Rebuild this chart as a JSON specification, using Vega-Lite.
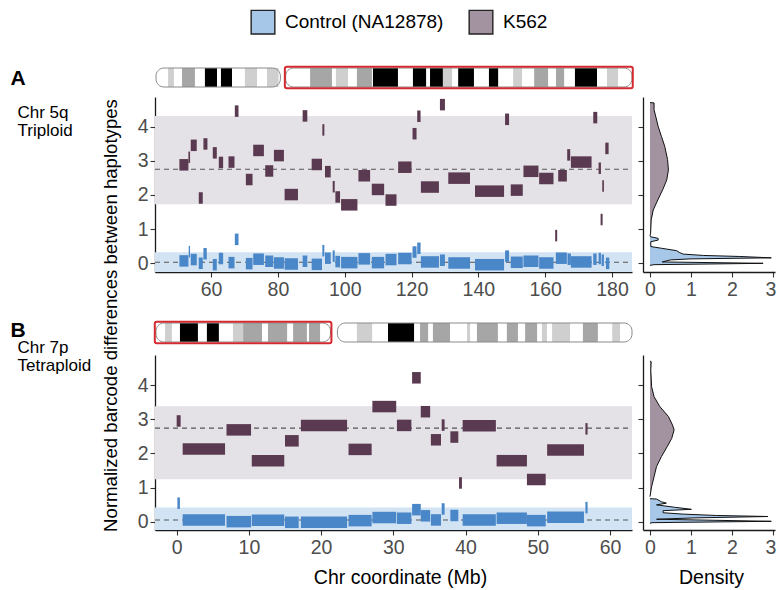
{
  "$schema": "https://vega.github.io/schema/vega-lite/v6.json",
  "width": 777,
  "height": 590,
  "autosize": "none",
  "padding": 0,
  "config": {
    "view": {"stroke": null},
    "font": "Liberation Sans",
    "axis": {"grid": false, "domainColor": "#1a1a1a", "domainWidth": 1.3, "tickColor": "#333333", "tickWidth": 1.1, "tickSize": 5, "labelFontSize": 19.5, "labelColor": "#4d4d4d", "titleFontSize": 19.5, "titleFontWeight": "normal", "titleColor": "#000000", "labelFlush": false, "labelOverlap": false, "labelBound": false, "format": "d"},
    "axisX": {"labelPadding": 3},
    "axisY": {"labelPadding": 2}
  },
  "datasets": {
    "arms": [
      {"chrom": "5", "start": 0, "end": 47.3},
      {"chrom": "5", "start": 49.3, "end": 181},
      {"chrom": "7", "start": 0, "end": 58.3},
      {"chrom": "7", "start": 60.6, "end": 159}
    ],
    "hl": [
      {"chrom": "5", "start": 49.0, "end": 181.3},
      {"chrom": "7", "start": -0.4, "end": 58.6}
    ],
    "bands": [
      {"chrom": "5", "start": 4.6, "end": 6.8, "stain": "gpos25"},
      {"chrom": "5", "start": 9.9, "end": 14.8, "stain": "gpos50"},
      {"chrom": "5", "start": 18.6, "end": 23.2, "stain": "gpos100"},
      {"chrom": "5", "start": 24.7, "end": 28.9, "stain": "gpos100"},
      {"chrom": "5", "start": 33.8, "end": 38.4, "stain": "gpos25"},
      {"chrom": "5", "start": 42.2, "end": 46.6, "stain": "gpos25"},
      {"chrom": "5", "start": 58.6, "end": 66.9, "stain": "gpos50"},
      {"chrom": "5", "start": 68.4, "end": 73.0, "stain": "gpos25"},
      {"chrom": "5", "start": 76.4, "end": 82.1, "stain": "gpos50"},
      {"chrom": "5", "start": 82.5, "end": 92.0, "stain": "gpos100"},
      {"chrom": "5", "start": 97.7, "end": 102.7, "stain": "gpos100"},
      {"chrom": "5", "start": 104.2, "end": 109.1, "stain": "gpos100"},
      {"chrom": "5", "start": 109.1, "end": 112.6, "stain": "gpos25"},
      {"chrom": "5", "start": 114.9, "end": 120.9, "stain": "gpos100"},
      {"chrom": "5", "start": 126.6, "end": 130.1, "stain": "gpos100"},
      {"chrom": "5", "start": 135.8, "end": 139.2, "stain": "gpos25"},
      {"chrom": "5", "start": 143.8, "end": 149.1, "stain": "gpos50"},
      {"chrom": "5", "start": 152.1, "end": 155.2, "stain": "gpos50"},
      {"chrom": "5", "start": 159.3, "end": 167.7, "stain": "gpos100"},
      {"chrom": "5", "start": 171.5, "end": 175.7, "stain": "gpos25"},
      {"chrom": "7", "start": 3.0, "end": 5.3, "stain": "gpos25"},
      {"chrom": "7", "start": 8.0, "end": 14.0, "stain": "gpos100"},
      {"chrom": "7", "start": 17.0, "end": 21.0, "stain": "gpos100"},
      {"chrom": "7", "start": 25.7, "end": 29.1, "stain": "gpos25"},
      {"chrom": "7", "start": 29.1, "end": 35.4, "stain": "gpos50"},
      {"chrom": "7", "start": 37.4, "end": 43.8, "stain": "gpos50"},
      {"chrom": "7", "start": 45.8, "end": 50.4, "stain": "gpos50"},
      {"chrom": "7", "start": 51.1, "end": 54.8, "stain": "gpos50"},
      {"chrom": "7", "start": 67.1, "end": 72.2, "stain": "gpos25"},
      {"chrom": "7", "start": 77.5, "end": 86.2, "stain": "gpos100"},
      {"chrom": "7", "start": 88.2, "end": 90.9, "stain": "gpos50"},
      {"chrom": "7", "start": 92.5, "end": 98.2, "stain": "gpos50"},
      {"chrom": "7", "start": 103.9, "end": 104.9, "stain": "gpos25"},
      {"chrom": "7", "start": 107.2, "end": 114.2, "stain": "gpos50"},
      {"chrom": "7", "start": 117.2, "end": 120.9, "stain": "gpos50"},
      {"chrom": "7", "start": 123.3, "end": 127.3, "stain": "gpos50"},
      {"chrom": "7", "start": 128.9, "end": 130.6, "stain": "gpos25"},
      {"chrom": "7", "start": 132.3, "end": 138.3, "stain": "gpos25"},
      {"chrom": "7", "start": 142.6, "end": 147.6, "stain": "gpos50"},
      {"chrom": "7", "start": 152.4, "end": 155.0, "stain": "gpos25"}
    ],
    "zones": [
      {"panel": "A", "group": "K562", "lo": 1.73, "hi": 4.31},
      {"panel": "A", "group": "Control (NA12878)", "lo": -0.254, "hi": 0.32},
      {"panel": "B", "group": "K562", "lo": 1.25, "hi": 3.38},
      {"panel": "B", "group": "Control (NA12878)", "lo": -0.234, "hi": 0.42}
    ],
    "means": [
      {"panel": "A", "group": "K562", "mean": 2.75},
      {"panel": "A", "group": "Control (NA12878)", "mean": 0.03},
      {"panel": "B", "group": "K562", "mean": 2.74},
      {"panel": "B", "group": "Control (NA12878)", "mean": 0.06}
    ],
    "seg": [
      {"panel": "A", "group": "K562", "start": 50.5, "end": 53.2, "value": 2.88},
      {"panel": "A", "group": "K562", "start": 53.2, "end": 53.7, "value": 3.1},
      {"panel": "A", "group": "K562", "start": 53.9, "end": 55.7, "value": 3.45},
      {"panel": "A", "group": "K562", "start": 56.3, "end": 57.5, "value": 1.91},
      {"panel": "A", "group": "K562", "start": 57.7, "end": 58.9, "value": 3.49},
      {"panel": "A", "group": "K562", "start": 60.5, "end": 61.7, "value": 3.23},
      {"panel": "A", "group": "K562", "start": 62.3, "end": 63.6, "value": 2.95},
      {"panel": "A", "group": "K562", "start": 65.2, "end": 67.0, "value": 2.96},
      {"panel": "A", "group": "K562", "start": 67.1, "end": 68.2, "value": 4.45},
      {"panel": "A", "group": "K562", "start": 70.4, "end": 72.4, "value": 2.45},
      {"panel": "A", "group": "K562", "start": 72.6, "end": 75.8, "value": 3.30},
      {"panel": "A", "group": "K562", "start": 76.2, "end": 78.6, "value": 2.70},
      {"panel": "A", "group": "K562", "start": 78.8, "end": 81.8, "value": 3.15},
      {"panel": "A", "group": "K562", "start": 82.0, "end": 86.0, "value": 2.01},
      {"panel": "A", "group": "K562", "start": 87.4, "end": 88.8, "value": 4.31},
      {"panel": "A", "group": "K562", "start": 90.1, "end": 93.2, "value": 2.89},
      {"panel": "A", "group": "K562", "start": 93.3, "end": 93.9, "value": 3.90},
      {"panel": "A", "group": "K562", "start": 94.1, "end": 95.8, "value": 2.68},
      {"panel": "A", "group": "K562", "start": 96.4, "end": 97.0, "value": 2.24},
      {"panel": "A", "group": "K562", "start": 97.2, "end": 98.6, "value": 1.94},
      {"panel": "A", "group": "K562", "start": 98.9, "end": 103.8, "value": 1.71},
      {"panel": "A", "group": "K562", "start": 104.1, "end": 107.6, "value": 2.56},
      {"panel": "A", "group": "K562", "start": 108.1, "end": 111.8, "value": 2.16},
      {"panel": "A", "group": "K562", "start": 112.2, "end": 115.5, "value": 1.85},
      {"panel": "A", "group": "K562", "start": 116.0, "end": 120.0, "value": 2.81},
      {"panel": "A", "group": "K562", "start": 120.3, "end": 121.5, "value": 3.79},
      {"panel": "A", "group": "K562", "start": 121.7, "end": 122.7, "value": 4.30},
      {"panel": "A", "group": "K562", "start": 122.8, "end": 128.2, "value": 2.23},
      {"panel": "A", "group": "K562", "start": 128.5, "end": 130.0, "value": 4.64},
      {"panel": "A", "group": "K562", "start": 131.0, "end": 137.5, "value": 2.49},
      {"panel": "A", "group": "K562", "start": 139.0, "end": 147.7, "value": 2.11},
      {"panel": "A", "group": "K562", "start": 148.0, "end": 149.2, "value": 4.21},
      {"panel": "A", "group": "K562", "start": 149.7, "end": 153.3, "value": 2.14},
      {"panel": "A", "group": "K562", "start": 153.5, "end": 158.0, "value": 2.69},
      {"panel": "A", "group": "K562", "start": 158.2, "end": 162.5, "value": 2.48},
      {"panel": "A", "group": "K562", "start": 163.0, "end": 163.6, "value": 0.81},
      {"panel": "A", "group": "K562", "start": 163.9, "end": 166.5, "value": 2.56},
      {"panel": "A", "group": "K562", "start": 166.6, "end": 167.5, "value": 3.17},
      {"panel": "A", "group": "K562", "start": 167.7, "end": 173.9, "value": 2.96},
      {"panel": "A", "group": "K562", "start": 174.4, "end": 175.6, "value": 4.26},
      {"panel": "A", "group": "K562", "start": 176.0, "end": 176.7, "value": 2.78},
      {"panel": "A", "group": "K562", "start": 176.6, "end": 177.2, "value": 1.28},
      {"panel": "A", "group": "K562", "start": 177.1, "end": 177.6, "value": 2.26},
      {"panel": "A", "group": "K562", "start": 178.0, "end": 179.0, "value": 3.36},
      {"panel": "A", "group": "Control (NA12878)", "start": 50.5, "end": 53.2, "value": 0.07},
      {"panel": "A", "group": "Control (NA12878)", "start": 53.3, "end": 53.7, "value": 0.34},
      {"panel": "A", "group": "Control (NA12878)", "start": 53.9, "end": 55.7, "value": 0.11},
      {"panel": "A", "group": "Control (NA12878)", "start": 56.3, "end": 57.5, "value": 0.0},
      {"panel": "A", "group": "Control (NA12878)", "start": 57.7, "end": 58.7, "value": 0.28},
      {"panel": "A", "group": "Control (NA12878)", "start": 60.5, "end": 61.7, "value": -0.04},
      {"panel": "A", "group": "Control (NA12878)", "start": 62.3, "end": 63.6, "value": 0.14},
      {"panel": "A", "group": "Control (NA12878)", "start": 65.2, "end": 67.0, "value": 0.02},
      {"panel": "A", "group": "Control (NA12878)", "start": 67.1, "end": 68.2, "value": 0.70},
      {"panel": "A", "group": "Control (NA12878)", "start": 70.4, "end": 72.4, "value": -0.01},
      {"panel": "A", "group": "Control (NA12878)", "start": 72.6, "end": 75.8, "value": 0.12},
      {"panel": "A", "group": "Control (NA12878)", "start": 76.2, "end": 78.6, "value": 0.06},
      {"panel": "A", "group": "Control (NA12878)", "start": 78.8, "end": 81.8, "value": 0.01},
      {"panel": "A", "group": "Control (NA12878)", "start": 82.0, "end": 86.0, "value": -0.02},
      {"panel": "A", "group": "Control (NA12878)", "start": 87.4, "end": 88.8, "value": 0.06},
      {"panel": "A", "group": "Control (NA12878)", "start": 90.1, "end": 93.2, "value": -0.03},
      {"panel": "A", "group": "Control (NA12878)", "start": 93.3, "end": 93.9, "value": 0.37},
      {"panel": "A", "group": "Control (NA12878)", "start": 94.1, "end": 95.8, "value": 0.15},
      {"panel": "A", "group": "Control (NA12878)", "start": 96.4, "end": 97.0, "value": 0.21},
      {"panel": "A", "group": "Control (NA12878)", "start": 97.2, "end": 98.6, "value": 0.05},
      {"panel": "A", "group": "Control (NA12878)", "start": 98.9, "end": 103.8, "value": 0.02},
      {"panel": "A", "group": "Control (NA12878)", "start": 104.1, "end": 107.6, "value": 0.13},
      {"panel": "A", "group": "Control (NA12878)", "start": 108.1, "end": 111.8, "value": 0.02},
      {"panel": "A", "group": "Control (NA12878)", "start": 112.2, "end": 115.5, "value": 0.11},
      {"panel": "A", "group": "Control (NA12878)", "start": 116.0, "end": 120.0, "value": 0.14},
      {"panel": "A", "group": "Control (NA12878)", "start": 120.3, "end": 121.5, "value": 0.33},
      {"panel": "A", "group": "Control (NA12878)", "start": 121.7, "end": 122.7, "value": 0.44},
      {"panel": "A", "group": "Control (NA12878)", "start": 122.8, "end": 128.2, "value": 0.04},
      {"panel": "A", "group": "Control (NA12878)", "start": 128.5, "end": 130.0, "value": 0.09},
      {"panel": "A", "group": "Control (NA12878)", "start": 131.0, "end": 137.5, "value": 0.01},
      {"panel": "A", "group": "Control (NA12878)", "start": 139.0, "end": 147.7, "value": -0.04},
      {"panel": "A", "group": "Control (NA12878)", "start": 148.0, "end": 149.2, "value": 0.21},
      {"panel": "A", "group": "Control (NA12878)", "start": 149.7, "end": 153.3, "value": 0.03},
      {"panel": "A", "group": "Control (NA12878)", "start": 153.5, "end": 158.0, "value": 0.06},
      {"panel": "A", "group": "Control (NA12878)", "start": 158.2, "end": 162.5, "value": 0.01},
      {"panel": "A", "group": "Control (NA12878)", "start": 163.2, "end": 166.5, "value": 0.15},
      {"panel": "A", "group": "Control (NA12878)", "start": 166.7, "end": 167.7, "value": 0.12},
      {"panel": "A", "group": "Control (NA12878)", "start": 167.7, "end": 173.9, "value": 0.04},
      {"panel": "A", "group": "Control (NA12878)", "start": 174.4, "end": 175.4, "value": 0.12},
      {"panel": "A", "group": "Control (NA12878)", "start": 176.0, "end": 176.7, "value": 0.14},
      {"panel": "A", "group": "Control (NA12878)", "start": 176.9, "end": 177.6, "value": 0.09},
      {"panel": "A", "group": "Control (NA12878)", "start": 178.2, "end": 179.2, "value": 0.0},
      {"panel": "B", "group": "K562", "start": 0.0, "end": 0.55, "value": 2.95},
      {"panel": "B", "group": "K562", "start": 0.83, "end": 6.7, "value": 2.13},
      {"panel": "B", "group": "K562", "start": 6.9, "end": 10.3, "value": 2.69},
      {"panel": "B", "group": "K562", "start": 10.4, "end": 14.9, "value": 1.79},
      {"panel": "B", "group": "K562", "start": 15.0, "end": 16.9, "value": 2.37},
      {"panel": "B", "group": "K562", "start": 17.2, "end": 23.6, "value": 2.82},
      {"panel": "B", "group": "K562", "start": 23.8, "end": 27.0, "value": 2.12},
      {"panel": "B", "group": "K562", "start": 27.1, "end": 30.4, "value": 3.37},
      {"panel": "B", "group": "K562", "start": 30.5, "end": 32.5, "value": 2.82},
      {"panel": "B", "group": "K562", "start": 32.6, "end": 33.8, "value": 4.21},
      {"panel": "B", "group": "K562", "start": 33.8, "end": 35.1, "value": 3.22},
      {"panel": "B", "group": "K562", "start": 35.2, "end": 36.6, "value": 2.40},
      {"panel": "B", "group": "K562", "start": 36.7, "end": 37.1, "value": 2.83},
      {"panel": "B", "group": "K562", "start": 37.9, "end": 39.0, "value": 2.48},
      {"panel": "B", "group": "K562", "start": 39.1, "end": 39.5, "value": 1.14},
      {"panel": "B", "group": "K562", "start": 39.6, "end": 44.2, "value": 2.81},
      {"panel": "B", "group": "K562", "start": 44.3, "end": 48.5, "value": 1.79},
      {"panel": "B", "group": "K562", "start": 48.5, "end": 51.1, "value": 1.24},
      {"panel": "B", "group": "K562", "start": 51.3, "end": 56.4, "value": 2.10},
      {"panel": "B", "group": "K562", "start": 56.6, "end": 56.9, "value": 2.72},
      {"panel": "B", "group": "Control (NA12878)", "start": 0.1, "end": 0.45, "value": 0.55},
      {"panel": "B", "group": "Control (NA12878)", "start": 0.83, "end": 6.7, "value": 0.06},
      {"panel": "B", "group": "Control (NA12878)", "start": 6.9, "end": 10.3, "value": 0.01},
      {"panel": "B", "group": "Control (NA12878)", "start": 10.4, "end": 14.9, "value": 0.05},
      {"panel": "B", "group": "Control (NA12878)", "start": 15.0, "end": 16.9, "value": -0.01},
      {"panel": "B", "group": "Control (NA12878)", "start": 17.2, "end": 23.6, "value": -0.01},
      {"panel": "B", "group": "Control (NA12878)", "start": 23.8, "end": 27.0, "value": 0.04},
      {"panel": "B", "group": "Control (NA12878)", "start": 27.1, "end": 30.4, "value": 0.13},
      {"panel": "B", "group": "Control (NA12878)", "start": 30.5, "end": 32.5, "value": 0.11},
      {"panel": "B", "group": "Control (NA12878)", "start": 32.6, "end": 33.8, "value": 0.36},
      {"panel": "B", "group": "Control (NA12878)", "start": 33.8, "end": 35.1, "value": 0.18},
      {"panel": "B", "group": "Control (NA12878)", "start": 35.2, "end": 36.6, "value": 0.06},
      {"panel": "B", "group": "Control (NA12878)", "start": 36.7, "end": 37.1, "value": 0.38},
      {"panel": "B", "group": "Control (NA12878)", "start": 37.9, "end": 39.0, "value": 0.19},
      {"panel": "B", "group": "Control (NA12878)", "start": 39.6, "end": 44.2, "value": 0.06},
      {"panel": "B", "group": "Control (NA12878)", "start": 44.3, "end": 48.5, "value": 0.11},
      {"panel": "B", "group": "Control (NA12878)", "start": 48.5, "end": 51.1, "value": 0.04},
      {"panel": "B", "group": "Control (NA12878)", "start": 51.3, "end": 56.4, "value": 0.14},
      {"panel": "B", "group": "Control (NA12878)", "start": 56.6, "end": 56.9, "value": 0.42}
    ],
    "dens": [
      {"panel": "A", "group": "K562", "value": 0.80, "density": 0.0},
      {"panel": "A", "group": "K562", "value": 0.88, "density": 0.016},
      {"panel": "A", "group": "K562", "value": 1.27, "density": 0.03},
      {"panel": "A", "group": "K562", "value": 1.56, "density": 0.08},
      {"panel": "A", "group": "K562", "value": 1.85, "density": 0.19},
      {"panel": "A", "group": "K562", "value": 2.15, "density": 0.31},
      {"panel": "A", "group": "K562", "value": 2.44, "density": 0.41},
      {"panel": "A", "group": "K562", "value": 2.73, "density": 0.45},
      {"panel": "A", "group": "K562", "value": 3.03, "density": 0.43},
      {"panel": "A", "group": "K562", "value": 3.42, "density": 0.36},
      {"panel": "A", "group": "K562", "value": 3.71, "density": 0.28},
      {"panel": "A", "group": "K562", "value": 4.0, "density": 0.2},
      {"panel": "A", "group": "K562", "value": 4.25, "density": 0.15},
      {"panel": "A", "group": "K562", "value": 4.49, "density": 0.1},
      {"panel": "A", "group": "K562", "value": 4.69, "density": 0.1},
      {"panel": "A", "group": "K562", "value": 4.70, "density": 0.0},
      {"panel": "A", "group": "Control (NA12878)", "value": -0.06, "density": 0.0},
      {"panel": "A", "group": "Control (NA12878)", "value": -0.04, "density": 0.1},
      {"panel": "A", "group": "Control (NA12878)", "value": 0.0, "density": 2.76},
      {"panel": "A", "group": "Control (NA12878)", "value": 0.04, "density": 0.3},
      {"panel": "A", "group": "Control (NA12878)", "value": 0.10, "density": 0.5},
      {"panel": "A", "group": "Control (NA12878)", "value": 0.13, "density": 1.0},
      {"panel": "A", "group": "Control (NA12878)", "value": 0.16, "density": 2.96},
      {"panel": "A", "group": "Control (NA12878)", "value": 0.20, "density": 2.19},
      {"panel": "A", "group": "Control (NA12878)", "value": 0.23, "density": 1.3},
      {"panel": "A", "group": "Control (NA12878)", "value": 0.27, "density": 0.81},
      {"panel": "A", "group": "Control (NA12878)", "value": 0.31, "density": 0.73},
      {"panel": "A", "group": "Control (NA12878)", "value": 0.37, "density": 0.65},
      {"panel": "A", "group": "Control (NA12878)", "value": 0.44, "density": 0.28},
      {"panel": "A", "group": "Control (NA12878)", "value": 0.49, "density": 0.02},
      {"panel": "A", "group": "Control (NA12878)", "value": 0.63, "density": 0.02},
      {"panel": "A", "group": "Control (NA12878)", "value": 0.68, "density": 0.2},
      {"panel": "A", "group": "Control (NA12878)", "value": 0.73, "density": 0.2},
      {"panel": "A", "group": "Control (NA12878)", "value": 0.78, "density": 0.0},
      {"panel": "B", "group": "K562", "value": 0.74, "density": 0.0},
      {"panel": "B", "group": "K562", "value": 1.03, "density": 0.04},
      {"panel": "B", "group": "K562", "value": 1.32, "density": 0.10},
      {"panel": "B", "group": "K562", "value": 1.62, "density": 0.16},
      {"panel": "B", "group": "K562", "value": 1.91, "density": 0.28},
      {"panel": "B", "group": "K562", "value": 2.2, "density": 0.42},
      {"panel": "B", "group": "K562", "value": 2.44, "density": 0.53},
      {"panel": "B", "group": "K562", "value": 2.69, "density": 0.59},
      {"panel": "B", "group": "K562", "value": 2.83, "density": 0.55},
      {"panel": "B", "group": "K562", "value": 3.08, "density": 0.45},
      {"panel": "B", "group": "K562", "value": 3.37, "density": 0.24},
      {"panel": "B", "group": "K562", "value": 3.66, "density": 0.10},
      {"panel": "B", "group": "K562", "value": 3.95, "density": 0.04},
      {"panel": "B", "group": "K562", "value": 4.44, "density": 0.02},
      {"panel": "B", "group": "K562", "value": 4.68, "density": 0.03},
      {"panel": "B", "group": "K562", "value": 4.70, "density": 0.0},
      {"panel": "B", "group": "Control (NA12878)", "value": -0.04, "density": 0.0},
      {"panel": "B", "group": "Control (NA12878)", "value": -0.02, "density": 0.05},
      {"panel": "B", "group": "Control (NA12878)", "value": 0.02, "density": 2.96},
      {"panel": "B", "group": "Control (NA12878)", "value": 0.08, "density": 0.16},
      {"panel": "B", "group": "Control (NA12878)", "value": 0.12, "density": 1.1},
      {"panel": "B", "group": "Control (NA12878)", "value": 0.16, "density": 2.88},
      {"panel": "B", "group": "Control (NA12878)", "value": 0.19, "density": 1.62},
      {"panel": "B", "group": "Control (NA12878)", "value": 0.23, "density": 0.81},
      {"panel": "B", "group": "Control (NA12878)", "value": 0.27, "density": 0.32},
      {"panel": "B", "group": "Control (NA12878)", "value": 0.33, "density": 0.32},
      {"panel": "B", "group": "Control (NA12878)", "value": 0.37, "density": 1.01},
      {"panel": "B", "group": "Control (NA12878)", "value": 0.43, "density": 0.6},
      {"panel": "B", "group": "Control (NA12878)", "value": 0.5, "density": 0.16},
      {"panel": "B", "group": "Control (NA12878)", "value": 0.55, "density": 0.4},
      {"panel": "B", "group": "Control (NA12878)", "value": 0.59, "density": 0.28},
      {"panel": "B", "group": "Control (NA12878)", "value": 0.67, "density": 0.16},
      {"panel": "B", "group": "Control (NA12878)", "value": 0.68, "density": 0.0}
    ]
  },
  "layer": [
    {
      "layer": [
        {
          "data": {"name": "arms"},
          "transform": [{"filter": {"field": "chrom", "equal": "5"}}],
          "mark": {"type": "rect", "fill": "white", "cornerRadius": 8},
          "encoding": {
            "x": {"field": "start", "type": "quantitative", "scale": {"domain": [0, 181], "range": [156, 632], "nice": false, "zero": false}, "axis": {"orient": "top", "offset": 0, "domain": false, "ticks": false, "labels": false, "title": "A", "titleX": 10, "titleY": 84, "titleAlign": "left", "titleBaseline": "alphabetic", "titleFontSize": 21, "titleFontWeight": "bold"}},
            "x2": {"field": "end"},
            "y": {"datum": 0, "type": "quantitative", "scale": {"domain": [0, 1], "range": [87, 68], "nice": false, "zero": false}, "axis": {"orient": "left", "offset": 0, "domain": false, "ticks": false, "labels": false, "title": ["Chr 5q", "Triploid"], "titleAngle": 0, "titleX": 17, "titleY": 117, "titleAlign": "left", "titleBaseline": "alphabetic", "titleFontSize": 17, "titleLineHeight": 18}},
            "y2": {"datum": 1}
          }
        },
        {
          "data": {"name": "bands"},
          "transform": [{"filter": {"field": "chrom", "equal": "5"}}],
          "mark": {"type": "rect"},
          "encoding": {
            "x": {"field": "start", "type": "quantitative"},
            "x2": {"field": "end"},
            "y": {"datum": 0, "type": "quantitative"},
            "y2": {"datum": 1},
            "color": {"field": "stain", "type": "nominal", "scale": {"domain": ["gpos25", "gpos50", "gpos100"], "range": ["#cfcfcf", "#a6a6a6", "#000000"]}, "legend": null}
          }
        },
        {
          "data": {"name": "arms"},
          "transform": [{"filter": {"field": "chrom", "equal": "5"}}],
          "mark": {"type": "rect", "filled": false, "stroke": "#8a8a8a", "strokeWidth": 1, "cornerRadius": 8},
          "encoding": {
            "x": {"field": "start", "type": "quantitative"},
            "x2": {"field": "end"},
            "y": {"datum": 0, "type": "quantitative"},
            "y2": {"datum": 1}
          }
        },
        {
          "data": {"name": "hl"},
          "transform": [{"filter": {"field": "chrom", "equal": "5"}}],
          "mark": {"type": "rect", "filled": false, "stroke": "#d42a2f", "strokeWidth": 2, "cornerRadius": 2},
          "encoding": {
            "x": {"field": "start", "type": "quantitative"},
            "x2": {"field": "end"},
            "y": {"datum": -0.06, "type": "quantitative"},
            "y2": {"datum": 1.06}
          }
        }
      ]
    },
    {
      "layer": [
        {
          "data": {"name": "arms"},
          "transform": [{"filter": {"field": "chrom", "equal": "7"}}],
          "mark": {"type": "rect", "fill": "white", "cornerRadius": 8},
          "encoding": {
            "x": {"field": "start", "type": "quantitative", "scale": {"domain": [0, 159], "range": [156, 632], "nice": false, "zero": false}, "axis": {"orient": "top", "offset": 0, "domain": false, "ticks": false, "labels": false, "title": "B", "titleX": 10, "titleY": 336, "titleAlign": "left", "titleBaseline": "alphabetic", "titleFontSize": 21, "titleFontWeight": "bold"}},
            "x2": {"field": "end"},
            "y": {"datum": 0, "type": "quantitative", "scale": {"domain": [0, 1], "range": [342, 323], "nice": false, "zero": false}, "axis": {"orient": "left", "offset": 0, "domain": false, "ticks": false, "labels": false, "title": ["Chr 7p", "Tetraploid"], "titleAngle": 0, "titleX": 17, "titleY": 352, "titleAlign": "left", "titleBaseline": "alphabetic", "titleFontSize": 17, "titleLineHeight": 18}},
            "y2": {"datum": 1}
          }
        },
        {
          "data": {"name": "bands"},
          "transform": [{"filter": {"field": "chrom", "equal": "7"}}],
          "mark": {"type": "rect"},
          "encoding": {
            "x": {"field": "start", "type": "quantitative"},
            "x2": {"field": "end"},
            "y": {"datum": 0, "type": "quantitative"},
            "y2": {"datum": 1},
            "color": {"field": "stain", "type": "nominal", "scale": {"domain": ["gpos25", "gpos50", "gpos100"], "range": ["#cfcfcf", "#a6a6a6", "#000000"]}, "legend": null}
          }
        },
        {
          "data": {"name": "arms"},
          "transform": [{"filter": {"field": "chrom", "equal": "7"}}],
          "mark": {"type": "rect", "filled": false, "stroke": "#8a8a8a", "strokeWidth": 1, "cornerRadius": 8},
          "encoding": {
            "x": {"field": "start", "type": "quantitative"},
            "x2": {"field": "end"},
            "y": {"datum": 0, "type": "quantitative"},
            "y2": {"datum": 1}
          }
        },
        {
          "data": {"name": "hl"},
          "transform": [{"filter": {"field": "chrom", "equal": "7"}}],
          "mark": {"type": "rect", "filled": false, "stroke": "#d42a2f", "strokeWidth": 2, "cornerRadius": 2},
          "encoding": {
            "x": {"field": "start", "type": "quantitative"},
            "x2": {"field": "end"},
            "y": {"datum": -0.06, "type": "quantitative"},
            "y2": {"datum": 1.06}
          }
        }
      ]
    },
    {
      "layer": [
        {
          "data": {"name": "zones"},
          "transform": [{"filter": {"field": "panel", "equal": "A"}}],
          "mark": {"type": "rect"},
          "encoding": {
            "x": {"datum": 43.2, "type": "quantitative", "scale": {"domain": [43.2, 186.0], "range": [155, 632], "nice": false, "zero": false}, "axis": {"orient": "bottom", "offset": -318, "values": [60, 80, 100, 120, 140, 160, 180], "title": null}},
            "x2": {"datum": 186.0},
            "y": {"field": "lo", "type": "quantitative", "scale": {"domain": [-0.254, 4.863], "range": [272, 97], "nice": false, "zero": false}, "axis": {"orient": "left", "offset": -155, "values": [0, 1, 2, 3, 4], "title": "Normalized barcode differences between haplotypes", "titleX": -39, "titleY": 315, "titleAngle": -90, "titleAlign": "center", "titleBaseline": "alphabetic", "titleFontSize": 18.6}},
            "y2": {"field": "hi"},
            "color": {"field": "group", "type": "nominal", "scale": {"domain": ["K562", "Control (NA12878)"], "range": ["#e5e2e7", "#d2e3f3"]}, "legend": null}
          }
        },
        {
          "data": {"name": "means"},
          "transform": [{"filter": {"field": "panel", "equal": "A"}}],
          "mark": {"type": "rule", "color": "#555555", "strokeWidth": 1.1, "strokeDash": [5, 4]},
          "encoding": {
            "x": {"datum": 43.2, "type": "quantitative"},
            "x2": {"datum": 186.0},
            "y": {"field": "mean", "type": "quantitative"}
          }
        },
        {
          "data": {"name": "seg"},
          "transform": [{"filter": {"field": "panel", "equal": "A"}}],
          "mark": {"type": "rule", "strokeWidth": 11.5},
          "encoding": {
            "x": {"field": "start", "type": "quantitative"},
            "x2": {"field": "end"},
            "y": {"field": "value", "type": "quantitative"},
            "stroke": {"field": "group", "type": "nominal", "scale": {"domain": ["K562", "Control (NA12878)"], "range": ["#5a3a50", "#4a87c9"]}, "legend": null}
          }
        }
      ]
    },
    {
      "layer": [
        {
          "data": {"name": "zones"},
          "transform": [{"filter": {"field": "panel", "equal": "B"}}],
          "mark": {"type": "rect"},
          "encoding": {
            "x": {"datum": -3.0, "type": "quantitative", "scale": {"domain": [-3.0, 63.05], "range": [155, 632], "nice": false, "zero": false}, "axis": {"orient": "bottom", "offset": -60, "values": [0, 10, 20, 30, 40, 50, 60], "title": "Chr coordinate (Mb)", "titleX": 400, "titleY": 53, "titleAlign": "center", "titleBaseline": "alphabetic"}},
            "x2": {"datum": 63.05},
            "y": {"field": "lo", "type": "quantitative", "scale": {"domain": [-0.234, 4.876], "range": [530, 355], "nice": false, "zero": false}, "axis": {"orient": "left", "offset": -155, "values": [0, 1, 2, 3, 4], "title": null}},
            "y2": {"field": "hi"},
            "color": {"field": "group", "type": "nominal", "scale": {"domain": ["K562", "Control (NA12878)"], "range": ["#e5e2e7", "#d2e3f3"]}, "legend": null}
          }
        },
        {
          "data": {"name": "means"},
          "transform": [{"filter": {"field": "panel", "equal": "B"}}],
          "mark": {"type": "rule", "color": "#555555", "strokeWidth": 1.1, "strokeDash": [5, 4]},
          "encoding": {
            "x": {"datum": -3.0, "type": "quantitative"},
            "x2": {"datum": 63.05},
            "y": {"field": "mean", "type": "quantitative"}
          }
        },
        {
          "data": {"name": "seg"},
          "transform": [{"filter": {"field": "panel", "equal": "B"}}],
          "mark": {"type": "rule", "strokeWidth": 11.5},
          "encoding": {
            "x": {"field": "start", "type": "quantitative"},
            "x2": {"field": "end"},
            "y": {"field": "value", "type": "quantitative"},
            "stroke": {"field": "group", "type": "nominal", "scale": {"domain": ["K562", "Control (NA12878)"], "range": ["#5a3a50", "#4a87c9"]}, "legend": null}
          }
        }
      ]
    },
    {
      "layer": [
        {
          "data": {"name": "dens"},
          "transform": [{"filter": {"field": "panel", "equal": "A"}}],
          "mark": {"type": "area", "orient": "horizontal"},
          "encoding": {
            "y": {"field": "value", "type": "quantitative", "scale": {"domain": [-0.254, 4.863], "range": [272, 97], "nice": false, "zero": false}, "axis": {"orient": "left", "offset": -643, "values": [0, 1, 2, 3, 4], "labels": false, "title": null}},
            "x": {"field": "density", "type": "quantitative", "stack": null, "scale": {"domain": [-0.17, 3.05], "range": [643, 775], "nice": false, "zero": false}, "axis": {"orient": "bottom", "offset": -318, "values": [0, 1, 2, 3], "title": null, "labelFlush": 3, "labelFlushOffset": 3}},
            "x2": {"datum": 0},
            "fill": {"field": "group", "type": "nominal", "scale": {"domain": ["Control (NA12878)", "K562"], "range": ["#a7c7e9", "#a3929f"]}, "legend": {"orient": "none", "legendX": 250, "legendY": 9, "direction": "horizontal", "columns": 2, "title": null, "symbolType": "square", "symbolSize": 560, "symbolStrokeColor": "#222222", "symbolStrokeWidth": 1.4, "symbolOpacity": 1, "labelFontSize": 19, "labelColor": "#000000", "labelOffset": 9, "columnPadding": 22}}
          }
        },
        {
          "data": {"name": "dens"},
          "transform": [{"filter": {"field": "panel", "equal": "A"}}],
          "mark": {"type": "line", "color": "#111111", "strokeWidth": 1},
          "encoding": {
            "y": {"field": "value", "type": "quantitative"},
            "x": {"field": "density", "type": "quantitative"},
            "detail": {"field": "group"},
            "order": {"field": "value", "type": "quantitative"}
          }
        }
      ]
    },
    {
      "layer": [
        {
          "data": {"name": "dens"},
          "transform": [{"filter": {"field": "panel", "equal": "B"}}],
          "mark": {"type": "area", "orient": "horizontal"},
          "encoding": {
            "y": {"field": "value", "type": "quantitative", "scale": {"domain": [-0.234, 4.876], "range": [530, 355], "nice": false, "zero": false}, "axis": {"orient": "left", "offset": -643, "values": [0, 1, 2, 3, 4], "labels": false, "title": null}},
            "x": {"field": "density", "type": "quantitative", "stack": null, "scale": {"domain": [-0.17, 3.05], "range": [643, 775], "nice": false, "zero": false}, "axis": {"orient": "bottom", "offset": -60, "values": [0, 1, 2, 3], "title": "Density", "titleX": 711, "titleY": 53, "titleAlign": "center", "titleBaseline": "alphabetic", "labelFlush": 3, "labelFlushOffset": 3}},
            "x2": {"datum": 0},
            "fill": {"field": "group", "type": "nominal", "scale": {"domain": ["Control (NA12878)", "K562"], "range": ["#a7c7e9", "#a3929f"]}, "legend": {"orient": "none", "legendX": 250, "legendY": 9, "direction": "horizontal", "columns": 2, "title": null, "symbolType": "square", "symbolSize": 560, "symbolStrokeColor": "#222222", "symbolStrokeWidth": 1.4, "symbolOpacity": 1, "labelFontSize": 19, "labelColor": "#000000", "labelOffset": 9, "columnPadding": 22}}
          }
        },
        {
          "data": {"name": "dens"},
          "transform": [{"filter": {"field": "panel", "equal": "B"}}],
          "mark": {"type": "line", "color": "#111111", "strokeWidth": 1},
          "encoding": {
            "y": {"field": "value", "type": "quantitative"},
            "x": {"field": "density", "type": "quantitative"},
            "detail": {"field": "group"},
            "order": {"field": "value", "type": "quantitative"}
          }
        }
      ]
    }
  ],
  "resolve": {
    "scale": {"x": "independent", "y": "independent", "color": "independent"},
    "axis": {"x": "independent", "y": "independent"}
  }
}
